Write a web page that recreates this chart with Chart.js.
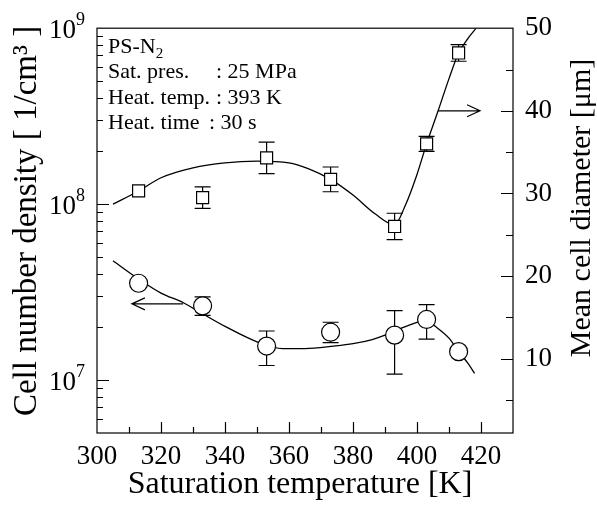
<!DOCTYPE html>
<html>
<head>
<meta charset="utf-8">
<script src="https://cdn.jsdelivr.net/npm/chart.js@4.4.1/dist/chart.umd.min.js"></script>
<style>
  html, body { margin: 0; padding: 0; background: #fff; }
  canvas { display: block; }
</style>
</head>
<body>
<canvas id="c" width="597" height="507" style="width:597px;height:507px"></canvas>
<script>
// ---------- data ----------
const temps = [313, 333, 353, 373, 393, 403, 413];            // saturation temperature [K]
const density = [3.55e7, 2.64e7, 1.56e7, 1.87e7, 1.80e7, 2.21e7, 1.45e7]; // cell number density [1/cm3]
const densityHi = [null, 2.97e7, 1.90e7, 2.13e7, 2.48e7, 2.68e7, null];
const densityLo = [null, 2.33e7, 1.21e7, 1.63e7, 1.08e7, 1.71e7, null];
const diameter = [30.3, 29.5, 34.3, 31.7, 26.0, 36.0, 47.0];   // mean cell diameter [um]
const diameterErr = [0, 1.3, 1.9, 1.5, 1.6, 0.9, 1.0];

// fitted curves
const densFitX = [305, 313, 320, 327, 333, 340, 350, 358, 365, 374, 380, 386, 390, 393, 397, 400, 402.5, 406, 410, 413, 416, 418];
const densFitY = [4.76e7, 3.75e7, 3.12e7, 2.75e7, 2.38e7, 2.02e7, 1.65e7, 1.51e7, 1.51e7, 1.56e7, 1.61e7, 1.70e7, 1.80e7, 1.90e7, 2.03e7, 2.13e7, 2.2e7, 2.0e7, 1.73e7, 1.45e7, 1.24e7, 1.09e7];
const diamFitX = [305, 313, 320, 330, 340, 350, 360, 366, 373, 380, 387, 393, 396.4, 400, 403, 406.6, 410, 413, 416, 418.5];
const diamFitY = [28.7, 30.3, 31.9, 33.1, 33.7, 33.9, 33.7, 33.0, 31.7, 29.8, 27.5, 26.2, 28.6, 32.3, 36.0, 40.0, 43.9, 47.0, 48.8, 50.0];

const xTicks = [300, 320, 340, 360, 380, 400, 420];
const yLeftTicks = [1e7, 1e8, 1e9];
const yLeftExp = ['7', '8', '9'];
const yRightTicks = [10, 20, 30, 40, 50];

// annotation arrows (data coordinates)
const arrowLeft = { x0: 326.9, x1: 310.9, y: 2.71e7 };
const arrowRight = { x0: 406.6, x1: 419.7, y: 40 };

const SERIF = '"Liberation Serif", "Times New Roman", "DejaVu Serif", serif';

const decor = {
  id: 'decor',
  beforeDatasetsDraw(chart) {
    const c = chart.ctx, sx = chart.scales.x, yl = chart.scales.y, yr = chart.scales.y1;
    c.save();
    c.strokeStyle = '#000';
    c.lineWidth = 1.2;
    const cap = 8;
    const bar = (px, a, b) => {
      c.beginPath();
      c.moveTo(px, a); c.lineTo(px, b);
      c.moveTo(px - cap, a); c.lineTo(px + cap, a);
      c.moveTo(px - cap, b); c.lineTo(px + cap, b);
      c.stroke();
    };
    temps.forEach((t, i) => {
      const px = sx.getPixelForValue(t);
      if (densityHi[i] != null) bar(px, yl.getPixelForValue(densityHi[i]), yl.getPixelForValue(densityLo[i]));
      if (diameterErr[i]) bar(px, yr.getPixelForValue(diameter[i] + diameterErr[i]), yr.getPixelForValue(diameter[i] - diameterErr[i]));
    });
    c.restore();
  },
  afterDraw(chart) {
    const c = chart.ctx, a = chart.chartArea;
    const sx = chart.scales.x, yl = chart.scales.y, yr = chart.scales.y1;
    c.save();
    c.strokeStyle = '#000';
    c.fillStyle = '#000';
    c.lineWidth = 1.2;
    // frame
    c.strokeRect(a.left, a.top, a.right - a.left, a.bottom - a.top);
    // x ticks (inward)
    c.beginPath();
    for (let v = 310; v < 430; v += 10) {
      const px = Math.round(sx.getPixelForValue(v)) + 0.5;
      const len = (v % 20 === 0) ? 11 : 6;
      c.moveTo(px, a.bottom); c.lineTo(px, a.bottom - len);
    }
    // left log ticks
    for (let k = 6; k <= 8; k++) {
      for (let m = 1; m <= 9; m++) {
        const v = m * Math.pow(10, k);
        if (v <= 5e6 || v >= 1e9) continue;
        const py = Math.round(yl.getPixelForValue(v)) + 0.5;
        const len = (m === 1) ? 12 : 6;
        c.moveTo(a.left, py); c.lineTo(a.left + len, py);
      }
    }
    // right ticks
    for (let v = 5; v < 50; v += 5) {
      const py = Math.round(yr.getPixelForValue(v)) + 0.5;
      const len = (v % 10 === 0) ? 12 : 7;
      c.moveTo(a.right, py); c.lineTo(a.right - len, py);
    }
    c.stroke();

    // left tick labels 10^n
    yLeftTicks.forEach((v, i) => {
      const py = yl.getPixelForValue(v);
      c.font = '18px ' + SERIF;
      c.textAlign = 'left';
      c.textBaseline = 'alphabetic';
      const ew = c.measureText(yLeftExp[i]).width;
      const xr = 85 - ew;
      c.fillText(yLeftExp[i], xr, py - 3);
      c.font = '27px ' + SERIF;
      c.textAlign = 'right';
      c.fillText('10', xr, py + 10);
    });

    // arrows
    const arrow = (x0, y0, x1, y1) => {
      const dx = Math.sign(x1 - x0);
      c.beginPath();
      c.moveTo(x0, y0); c.lineTo(x1, y1);
      c.moveTo(x1 - dx * 13, y1 - 6); c.lineTo(x1, y1); c.lineTo(x1 - dx * 13, y1 + 6);
      c.stroke();
    };
    arrow(sx.getPixelForValue(arrowLeft.x0), yl.getPixelForValue(arrowLeft.y), sx.getPixelForValue(arrowLeft.x1), yl.getPixelForValue(arrowLeft.y));
    arrow(sx.getPixelForValue(arrowRight.x0), yr.getPixelForValue(arrowRight.y), sx.getPixelForValue(arrowRight.x1), yr.getPixelForValue(arrowRight.y));

    // text box
    c.textAlign = 'left';
    c.textBaseline = 'alphabetic';
    c.font = '22px ' + SERIF;
    c.fillText('PS-N', 108, 53);
    const pw = c.measureText('PS-N').width;
    c.font = '15px ' + SERIF;
    c.fillText('2', 108 + pw, 58);
    c.font = '22px ' + SERIF;
    c.fillText('Sat. pres.', 108, 78);
    c.fillText(': 25 MPa', 216, 78);
    c.fillText('Heat. temp.', 108, 104);
    c.fillText(': 393 K', 216, 104);
    c.fillText('Heat. time', 108, 129);
    c.fillText(': 30 s', 209, 129);

    // axis titles
    c.textAlign = 'center';
    c.font = '32px ' + SERIF;
    c.fillText('Saturation temperature [K]', 300, 493);
    c.save();
    c.translate(36, 221);
    c.rotate(-Math.PI / 2);
    c.font = '33px ' + SERIF;
    c.fillText('Cell number density [ 1/cm\u00B3 ]', 0, 0);
    c.restore();
    c.save();
    c.translate(590, 208);
    c.rotate(-Math.PI / 2);
    c.font = '30px ' + SERIF;
    c.fillText('Mean cell diameter [\u03BCm]', 0, 0);
    c.restore();
    c.restore();
  }
};

const pts = (xs, ys) => xs.map((x, i) => ({ x: x, y: ys[i] }));

new Chart(document.getElementById('c'), {
  type: 'line',
  data: {
    datasets: [
      { label: 'Cell number density', data: pts(temps, density), yAxisID: 'y', showLine: false,
        pointStyle: 'circle', pointRadius: 9, pointBackgroundColor: '#fff', pointBorderColor: '#000', pointBorderWidth: 1.2, order: 0 },
      { label: 'Mean cell diameter', data: pts(temps, diameter), yAxisID: 'y1', showLine: false,
        pointStyle: 'rect', pointRadius: 8.5, pointBackgroundColor: '#fff', pointBorderColor: '#000', pointBorderWidth: 1.2, order: 0 },
      { label: 'density fit', data: pts(densFitX, densFitY), yAxisID: 'y', pointRadius: 0, borderColor: '#000',
        borderWidth: 1.3, cubicInterpolationMode: 'monotone', fill: false, order: 1 },
      { label: 'diameter fit', data: pts(diamFitX, diamFitY), yAxisID: 'y1', pointRadius: 0, borderColor: '#000',
        borderWidth: 1.3, cubicInterpolationMode: 'monotone', fill: false, order: 1 }
    ]
  },
  options: {
    responsive: false,
    animation: false,
    events: [],
    layout: { padding: { top: 19, left: 0, right: 0, bottom: 0 } },
    plugins: { legend: { display: false }, tooltip: { enabled: false } },
    scales: {
      x: {
        type: 'linear', min: 300, max: 430,
        afterBuildTicks: s => { s.ticks = xTicks.map(v => ({ value: v })); },
        afterFit: s => { s.height = 74; },
        grid: { display: false, drawTicks: false },
        border: { display: false },
        ticks: { font: { family: SERIF, size: 27 }, color: '#000', padding: 8, maxRotation: 0, autoSkip: false }
      },
      y: {
        type: 'logarithmic', position: 'left', min: 5e6, max: 1e9,
        afterFit: s => { s.width = 97; },
        grid: { display: false, drawTicks: false },
        border: { display: false },
        ticks: { display: false }
      },
      y1: {
        type: 'linear', position: 'right', min: 1, max: 50,
        afterBuildTicks: s => { s.ticks = yRightTicks.map(v => ({ value: v })); },
        afterFit: s => { s.width = 84; },
        grid: { display: false, drawTicks: false },
        border: { display: false },
        ticks: { font: { family: SERIF, size: 27 }, color: '#000', padding: 12, autoSkip: false }
      }
    }
  },
  plugins: [decor]
});
</script>
</body>
</html>
